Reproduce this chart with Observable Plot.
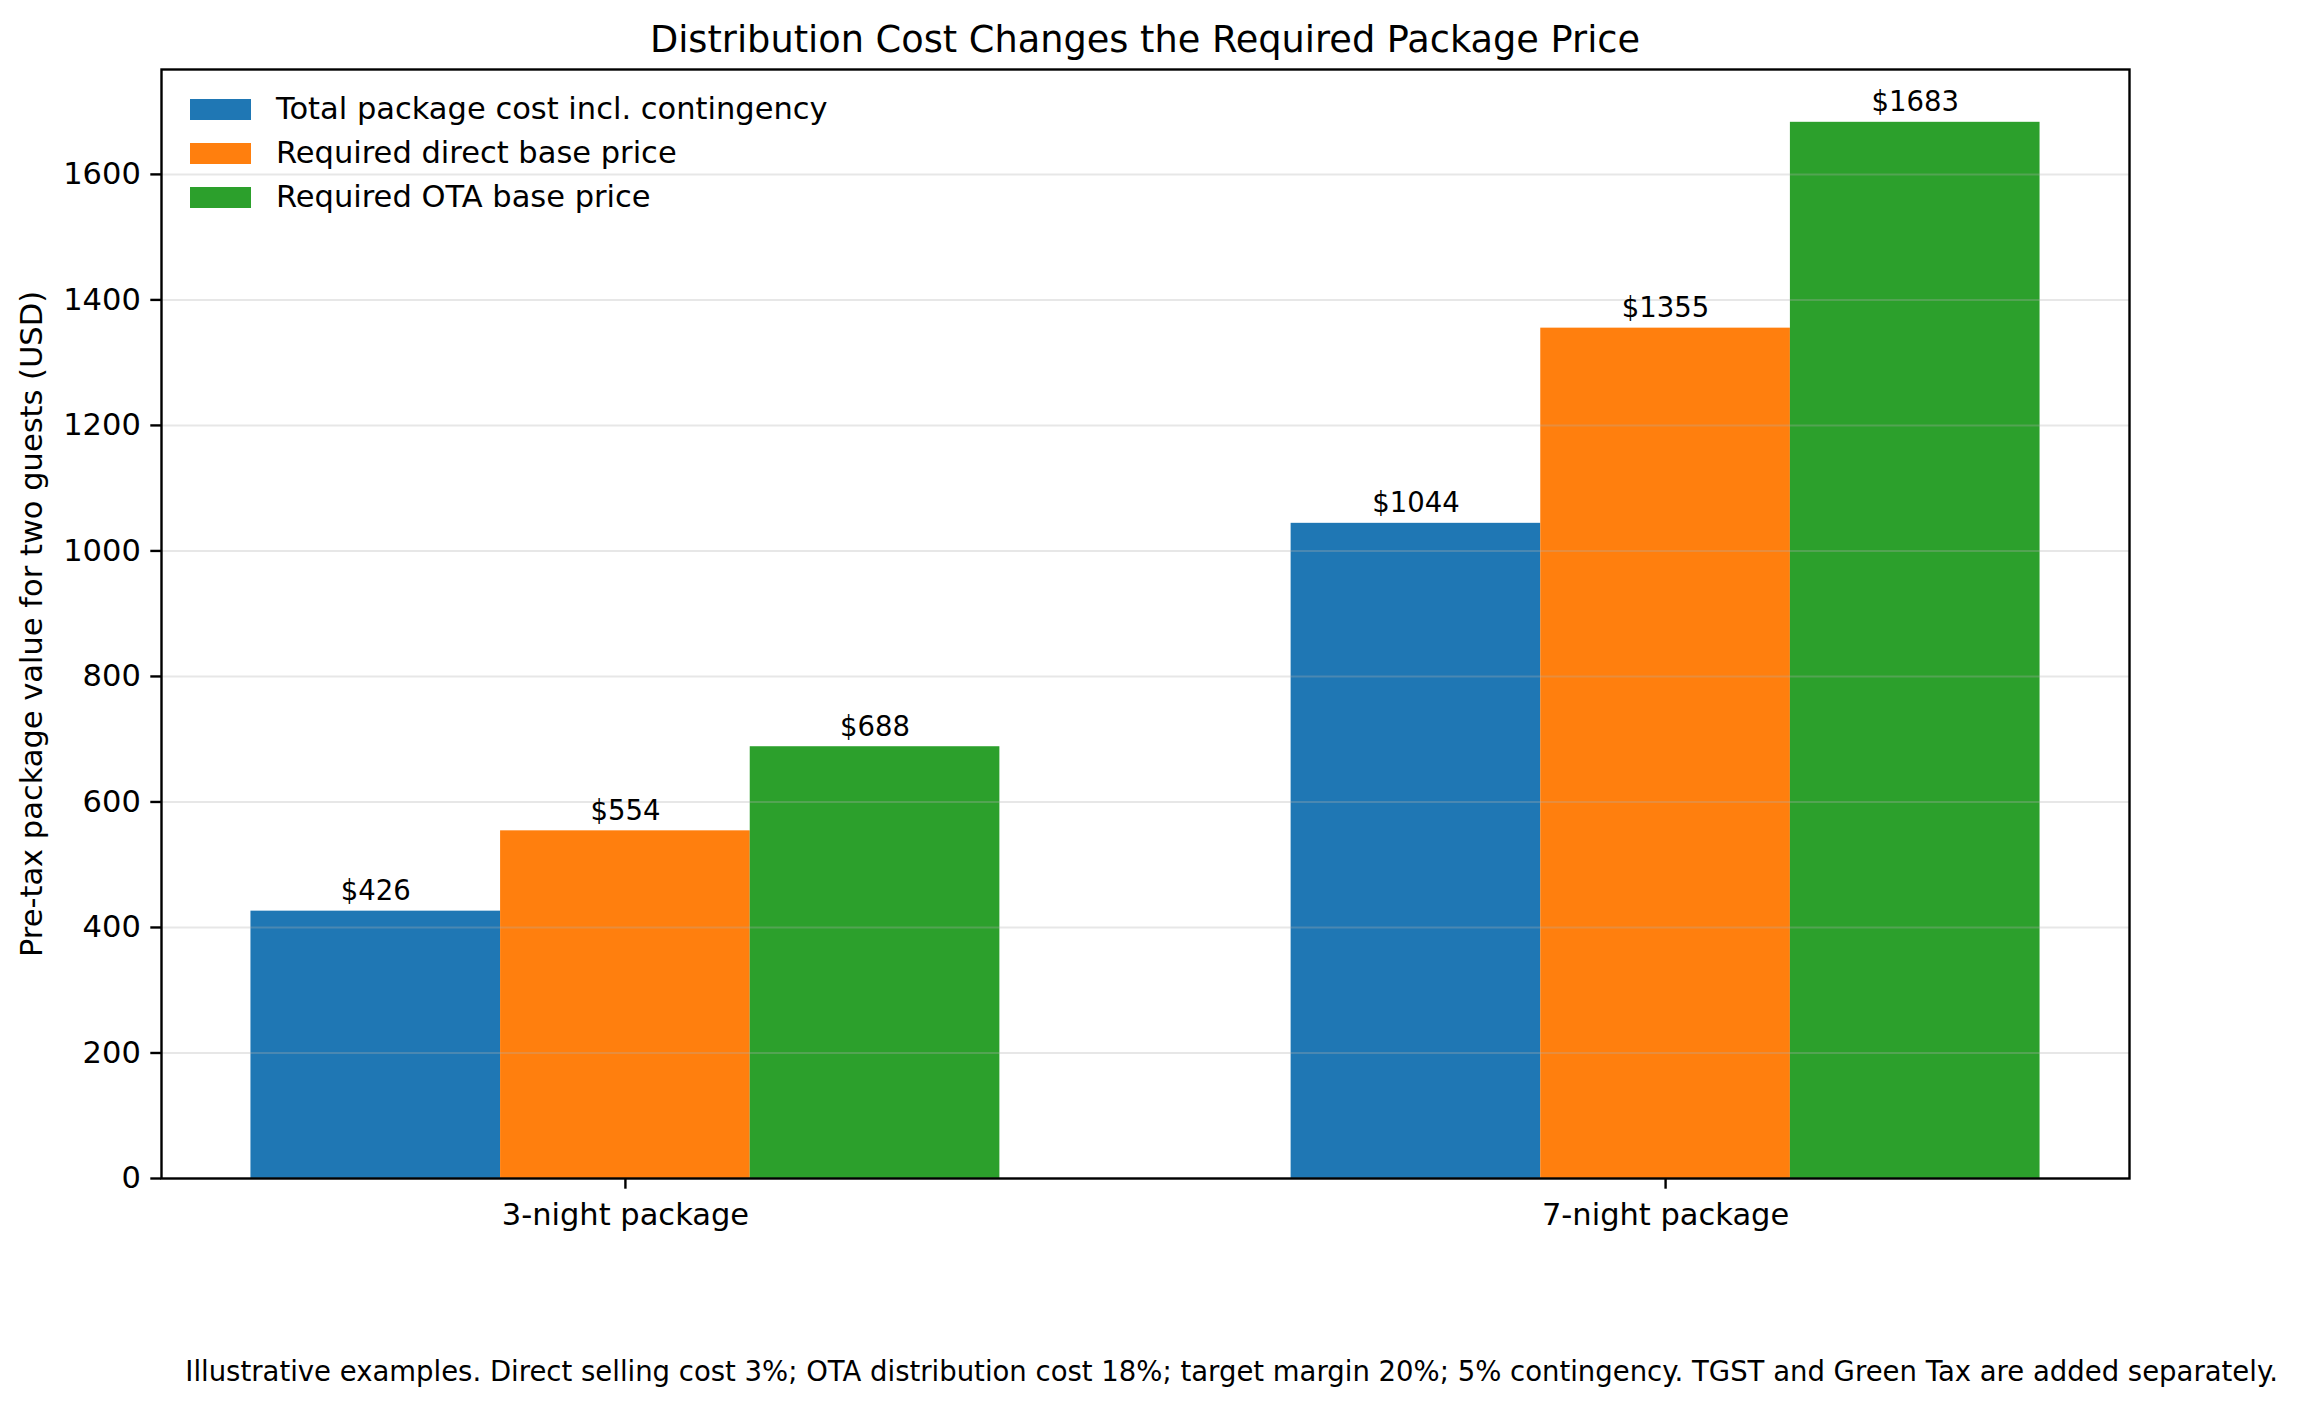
<!DOCTYPE html>
<html>
<head>
<meta charset="utf-8">
<script src="https://cdn.jsdelivr.net/npm/d3@7"></script>
<script src="https://cdn.jsdelivr.net/npm/@observablehq/plot@0.6"></script>
<style>
  html, body { margin: 0; padding: 0; background: #fff; }
  #wrap { position: relative; width: 2301px; height: 1407px; font-family: "DejaVu Sans", sans-serif; color: #000; overflow: hidden; }
  #chart { position: absolute; left: 0; top: 0; }
  .title { position: absolute; left: 161px; width: 1968px; top: 22px; font-size: 36.7px; line-height: 1; text-align: center; white-space: nowrap; }
  .caption { position: absolute; right: 23px; top: 1358px; font-size: 27.5px; line-height: 1; white-space: nowrap; }
  .legend-row { position: absolute; left: 190px; height: 44px; display: flex; align-items: center; font-size: 30.5px; line-height: 44px; white-space: nowrap; }
  .legend-row .sw { width: 61px; height: 21px; margin-right: 25px; flex: none; }
</style>
</head>
<body>
<div id="wrap">
  <div id="chart"></div>
</div>
<script>
// ---- data ----
const categories = ["3-night package", "7-night package"];
const seriesNames = [
  "Total package cost incl. contingency",
  "Required direct base price",
  "Required OTA base price"
];
const seriesColors = ["#1f77b4", "#ff7f0e", "#2ca02c"];
const totalCost = [426, 1044];
const directPrice = [554, 1355];
const otaPrice = [688, 1683];
const yTicks = [0, 200, 400, 600, 800, 1000, 1200, 1400, 1600];
const titleText = "Distribution Cost Changes the Required Package Price";
const yLabel = "Pre-tax package value for two guests (USD)";
const captionText = "Illustrative examples. Direct selling cost 3%; OTA distribution cost 18%; target margin 20%; 5% contingency. TGST and Green Tax are added separately.";

// ---- build table ----
const seriesValues = [totalCost, directPrice, otaPrice];
const barWidth = 0.24;
const rows = [];
categories.forEach((c, i) => {
  seriesValues.forEach((vals, j) => {
    const center = i + (j - 1) * barWidth;
    rows.push({
      category: c,
      series: seriesNames[j],
      value: vals[i],
      x1: center - barWidth / 2,
      x2: center + barWidth / 2,
      xc: center
    });
  });
});
const dataMin = d3.min(rows, d => d.x1), dataMax = d3.max(rows, d => d.x2);
const pad = (dataMax - dataMin) * 0.05;
const yMax = d3.max(rows, d => d.value) * 1.05;

const plot = Plot.plot({
  width: 2301,
  height: 1407,
  marginLeft: 161,
  marginRight: 172,
  marginTop: 69,
  marginBottom: 229,
  style: { fontFamily: "DejaVu Sans, sans-serif", color: "#000", background: "transparent", overflow: "visible" },
  x: { type: "linear", domain: [dataMin - pad, dataMax + pad], axis: null },
  y: { domain: [0, yMax], axis: null },
  color: { domain: seriesNames, range: seriesColors },
  marks: [
    Plot.rect(rows, { x1: "x1", x2: "x2", y1: 0, y2: "value", fill: "series" }),
    Plot.gridY(yTicks, { stroke: "#b0b0b0", strokeOpacity: 0.3, strokeWidth: 2 }),
    Plot.text(rows, {
      x: "xc", y: "value", text: d => "$" + d.value,
      dy: -11, lineAnchor: "bottom", fontSize: 27.5, fill: "#000"
    }),
    Plot.axisY({
      ticks: yTicks, tickFormat: d => String(d), tickSize: 10.7, tickPadding: 10, fontSize: 30.5,
      strokeWidth: 2.4, stroke: "#000", fill: "#000", label: null
    }),
    Plot.axisX({
      ticks: [0, 1], tickFormat: i => categories[i], tickSize: 10.7, tickPadding: 14,
      fontSize: 30.5, strokeWidth: 2.4, stroke: "#000", fill: "#000", label: null
    }),
    Plot.text([yLabel], {
      frameAnchor: "left", text: d => d, rotate: -90, dx: -129,
      fontSize: 30.5, fill: "#000", textAnchor: "middle"
    }),
    Plot.frame({ stroke: "#000", strokeWidth: 2.4 })
  ]
});
document.getElementById("chart").appendChild(plot);

// ---- title, legend, caption ----
const wrap = document.getElementById("wrap");
const t = document.createElement("div");
t.className = "title"; t.textContent = titleText; wrap.appendChild(t);

const legendCenters = [109, 153, 197];
seriesNames.forEach((name, j) => {
  const row = document.createElement("div");
  row.className = "legend-row";
  row.style.top = (legendCenters[j] - 22) + "px";
  const sw = document.createElement("span");
  sw.className = "sw"; sw.style.background = seriesColors[j];
  const lab = document.createElement("span");
  lab.textContent = name;
  row.appendChild(sw); row.appendChild(lab);
  wrap.appendChild(row);
});

const cap = document.createElement("div");
cap.className = "caption"; cap.textContent = captionText; wrap.appendChild(cap);
</script>
</body>
</html>
